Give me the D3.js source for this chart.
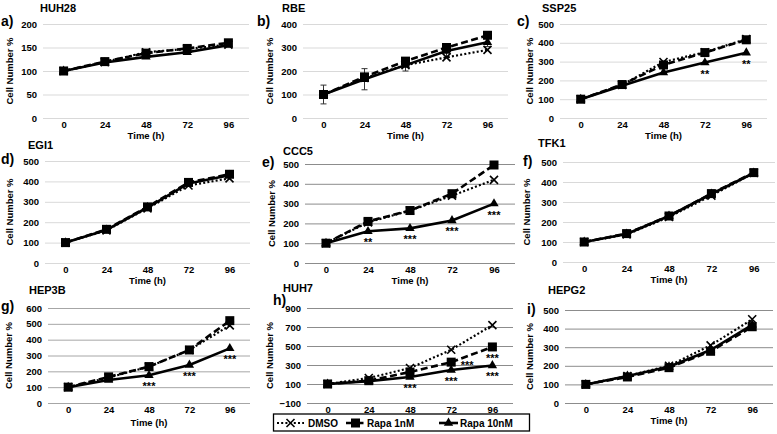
<!DOCTYPE html>
<html><head><meta charset="utf-8">
<script src="https://cdn.jsdelivr.net/npm/d3@7"></script>
<style>body{margin:0;background:#fff}svg{display:block}text{font-family:"Liberation Sans",Arial,sans-serif;font-weight:bold;fill:#000}</style>
</head><body><svg id="c" width="777" height="434"></svg>
<script>
// ---- data ----
const times = ["0","24","48","72","96"];
const cellLines = ["HUH28","RBE","SSP25","EGI1","CCC5","TFK1","HEP3B","HUH7","HEPG2"];
const panelLetters = ["a)","b)","c)","d)","e)","f)","g)","h)","i)"];
const seriesNames = ["DMSO","Rapa 1nM","Rapa 10nM"];
const dmso = [
  [100,119,140,147,156],
  [100,170,225,258,290],
  [100,176,298,350,420],
  [100,160,268,380,415],
  [100,205,265,340,420],
  [100,138,225,332,445],
  [100,160,230,335,490],
  [100,163,268,460,720],
  [100,145,200,310,450]
];
const rapa1nM = [
  [100,120,138,148,160],
  [100,175,242,300,352],
  [100,178,282,348,416],
  [100,165,275,395,435],
  [100,210,265,350,495],
  [100,142,230,342,447],
  [100,165,230,335,520],
  [100,135,226,330,490],
  [100,140,190,278,410]
];
const rapa10nM = [
  [100,118,130,140,155],
  [100,165,225,285,322],
  [100,172,242,295,347],
  [100,162,272,390,430],
  [100,160,175,215,300],
  [100,140,230,340,445],
  [100,145,175,240,345],
  [100,130,174,247,295],
  [100,145,195,285,420]
];
const yMin = [0,0,0,0,0,0,0,-100,0];
const yMax = [200,400,500,500,500,500,600,900,500];
const yStep = [50,100,100,100,100,100,100,200,100];
const sig10nM = [
  ["","","","",""],["","","","",""],["","","","**","**"],
  ["","","","",""],["","**","***","***","***"],["","","","",""],
  ["","","***","***","***"],["","","***","***","***"],["","","","",""]
];
const sig1nM = [
  ["","","","",""],["","","","",""],["","","","",""],
  ["","","","",""],["","","","",""],["","","","",""],
  ["","","","",""],["","","","***","***"],["","","","",""]
];
const rbeErr = [40,45,25,28,18];

// ---- layout ----
const L = [
 {l:43,r:249,t:24,b:118,yl:10,tx:40,ty:12,lx:1,ly:26,to:21,g:"#d9d9d9"},
 {l:303,r:508,t:24,b:118,yl:270,tx:282,ty:12,lx:257,ly:26,to:21,g:"#d9d9d9"},
 {l:560,r:767,t:24,b:118,yl:530,tx:542,ty:12,lx:517,ly:26,to:21,g:"#d9d9d9"},
 {l:45,r:250,t:161,b:263,yl:10,tx:28,ty:149,lx:1,ly:164,to:21,g:"#d9d9d9"},
 {l:305,r:515,t:164,b:263,yl:272,tx:283,ty:155,lx:262,ly:167,to:21,g:"#8c8c8c"},
 {l:563,r:775,t:162,b:262,yl:527,tx:538,ty:147,lx:523,ly:166,to:21,g:"#d9d9d9"},
 {l:48,r:250,t:308,b:403,yl:9,tx:29,ty:294,lx:1,ly:311,to:23,g:"#a6a6a6"},
 {l:307,r:513,t:308,b:403,yl:270,tx:283,ty:292,lx:273,ly:305,to:null,g:"#8c8c8c"},
 {l:565,r:773,t:310,b:403,yl:530,tx:548,ty:294,lx:527,ly:314,to:21,g:"#8c8c8c"}
];
const svg = d3.select("#c");
const styles = [
  {dash:"2,2.2",w:2.2,marker:"x"},
  {dash:"7,3.5",w:2.6,marker:"square"},
  {dash:null,w:2.6,marker:"tri"}
];
function drawMarker(g,type,x,y){
  if(type==="square"){
    g.append("rect").attr("x",x-4.5).attr("y",y-4.5).attr("width",9).attr("height",9).attr("fill","#000");
  } else if(type==="tri"){
    g.append("path").attr("d",d3.symbol(d3.symbolTriangle,38)()).attr("transform",`translate(${x},${y})`).attr("fill","#000");
  } else {
    g.append("path").attr("d",`M${x-4},${y-4}L${x+4},${y+4}M${x-4},${y+4}L${x+4},${y-4}`).attr("stroke","#000").attr("stroke-width",1.6).attr("fill","none");
  }
}
cellLines.forEach((name,i)=>{
  const p=L[i];
  const g=svg.append("g");
  const x=d3.scalePoint().domain(times).range([p.l,p.r]).padding(0.5);
  const y=d3.scaleLinear().domain([yMin[i],yMax[i]]).range([p.b,p.t]);
  const yt=d3.range(yMin[i],yMax[i]+0.1,yStep[i]);
  const ya=d3.axisLeft(y).tickValues(yt).tickSize(-(p.r-p.l)).tickPadding(6).tickFormat(d3.format("d"));
  const ag=g.append("g").attr("transform",`translate(${p.l},0)`).call(ya);
  ag.select(".domain").remove();
  ag.selectAll("line").attr("stroke",p.g).attr("stroke-width",1);
  ag.selectAll("text").attr("font-size",9.5).attr("font-weight","bold").attr("font-family","Liberation Sans, Arial, sans-serif");
  const xa=d3.axisBottom(x).tickSize(0).tickPadding(3);
  const xg=g.append("g").attr("transform",`translate(0,${p.b})`).call(xa);
  xg.select(".domain").remove();
  xg.selectAll("text").attr("font-size",9.5).attr("font-weight","bold").attr("font-family","Liberation Sans, Arial, sans-serif");
  if(p.to!==null){
    g.append("text").attr("x",(p.l+p.r)/2).attr("y",p.b+p.to).attr("text-anchor","middle").attr("font-size",9.5).text("Time (h)");
  }
  g.append("text").attr("transform",`translate(${p.yl},${(p.t+p.b)/2}) rotate(-90)`).attr("text-anchor","middle").attr("dy","0.35em").attr("font-size",9.5).text("Cell Number %");
  g.append("text").attr("x",p.tx).attr("y",p.ty).attr("font-size",11).text(name);
  g.append("text").attr("x",p.lx).attr("y",p.ly).attr("font-size",14).text(panelLetters[i]);
  const sets=[dmso[i],rapa1nM[i],rapa10nM[i]];
  if(name==="RBE"){
    rbeErr.forEach((e,k)=>{
      const cx=x(times[k]), v=rapa10nM[i][k];
      g.append("path").attr("d",`M${cx},${y(v-e)}V${y(v+e)}M${cx-3},${y(v-e)}H${cx+3}M${cx-3},${y(v+e)}H${cx+3}`).attr("stroke","#333").attr("stroke-width",1).attr("fill","none");
    });
  }
  const line=d3.line().x((d,k)=>x(times[k])).y(d=>y(d));
  sets.forEach((s,j)=>{
    const st=styles[j];
    const pth=g.append("path").attr("d",line(s)).attr("fill","none").attr("stroke","#000").attr("stroke-width",st.w).attr("stroke-linejoin","round");
    if(st.dash) pth.attr("stroke-dasharray",st.dash);
    s.forEach((v,k)=>drawMarker(g,st.marker,x(times[k]),y(v)));
  });
  sig10nM[i].forEach((t,k)=>{
    if(!t) return;
    g.append("text").attr("x",x(times[k])).attr("y",y(rapa10nM[i][k])+15).attr("text-anchor","middle").attr("font-size",11).text(t);
  });
  sig1nM[i].forEach((t,k)=>{
    if(!t) return;
    const y1=y(rapa1nM[i][k]), y2=y(rapa10nM[i][k]);
    if(y2-y1<14){
      g.append("text").attr("x",x(times[k])+16).attr("y",y1+7).attr("text-anchor","middle").attr("font-size",11).text(t);
    } else {
      g.append("text").attr("x",x(times[k])).attr("y",y1+15).attr("text-anchor","middle").attr("font-size",11).text(t);
    }
  });
});
// ---- legend ----
const lg=svg.append("g");
lg.append("rect").attr("x",273.5).attr("y",414).attr("width",256).attr("height",17).attr("fill","#fff").attr("stroke","#000").attr("stroke-width",1.3);
const items=[{x1:277,x2:304,tx:308},{x1:346,x2:365,tx:367},{x1:439,x2:458,tx:460}];
items.forEach((it,j)=>{
  const st=styles[j], ly=423;
  const pth=lg.append("path").attr("d",`M${it.x1},${ly}H${it.x2}`).attr("stroke","#000").attr("stroke-width",st.w);
  if(st.dash) pth.attr("stroke-dasharray",st.dash);
  drawMarker(lg,st.marker,(it.x1+it.x2)/2,ly);
  lg.append("text").attr("x",it.tx).attr("y",ly+3.5).attr("font-size",10).text(seriesNames[j]);
});
</script></body></html>
